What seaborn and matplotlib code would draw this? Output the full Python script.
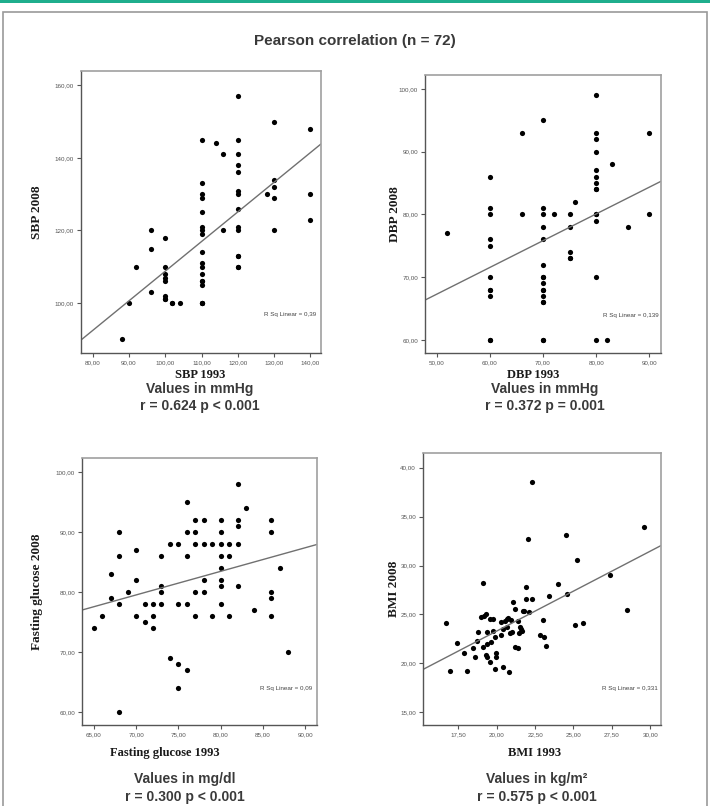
import numpy as np
import pandas as pd
import matplotlib.pyplot as plt
import seaborn as sns
from matplotlib.patches import Rectangle

sns.set_theme(style="white")
plt.rcParams['font.family'] = ['Liberation Sans', 'DejaVu Sans']

# --- data (n = 72, some points overlap) ---
# SBP (mmHg)
sbp_1993 = [88, 90, 92, 96, 96, 96,
            100, 100, 100, 100, 100, 100, 100, 100, 102, 102, 104,
            110, 110, 110, 110, 110, 110, 110, 110, 110, 110, 110, 110, 110, 110,
            110, 110, 110, 110,
            114, 116, 116,
            120, 120, 120, 120, 120, 120, 120, 120, 120, 120, 120, 120, 120, 120,
            128, 130, 130, 130, 130, 130, 140, 140, 140]
sbp_2008 = [90, 100, 110, 120, 115, 103,
            118, 110, 108, 107, 106, 102, 101, 101, 100, 100, 100,
            145, 133, 130, 129, 125, 121, 120, 119, 114, 111, 110, 108, 106, 106,
            105, 100, 100, 100,
            144, 141, 120,
            157, 145, 141, 138, 136, 131, 130, 126, 121, 120, 113, 113, 110, 110,
            130, 150, 134, 132, 129, 120, 148, 130, 123]

# DBP (mmHg)
dbp_1993 = [52,
            60, 60, 60, 60, 60, 60, 60, 60, 60, 60, 60,
            66, 66,
            70, 70, 70, 70, 70, 70, 70, 70, 70, 70, 70, 70, 70, 70, 70, 70,
            72, 75, 75, 75, 75, 75, 76,
            80, 80, 80, 80, 80, 80, 80, 80, 80, 80, 80, 80, 80, 80,
            82, 83, 86, 90, 90]
dbp_2008 = [77,
            86, 81, 80, 76, 75, 70, 68, 68, 67, 60, 60,
            93, 80,
            95, 81, 80, 78, 76, 72, 70, 70, 69, 68, 68, 67, 66, 66, 60, 60,
            80, 80, 78, 74, 73, 73, 82,
            99, 93, 92, 90, 87, 86, 85, 84, 84, 80, 80, 79, 70, 60,
            60, 88, 78, 93, 80]

# Fasting glucose (mg/dl)
glu_1993 = [65, 66, 67, 67, 68, 68, 68, 68, 69, 70, 70, 70, 71, 71, 72, 72, 72,
            73, 73, 73, 73, 74, 74, 75, 75, 75, 75, 76, 76, 76, 76, 76,
            77, 77, 77, 77, 77, 78, 78, 78, 78, 79, 79,
            80, 80, 80, 80, 80, 80, 80, 80, 81, 81, 81,
            82, 82, 82, 82, 82, 83, 84, 86, 86, 86, 86, 86, 87, 88]
glu_2008 = [74, 76, 83, 79, 90, 86, 78, 60, 80, 87, 82, 76, 75, 78, 78, 76, 74,
            86, 81, 80, 78, 88, 69, 88, 78, 68, 64, 95, 90, 86, 78, 67,
            92, 90, 88, 80, 76, 92, 88, 82, 80, 88, 76,
            92, 90, 88, 86, 84, 82, 81, 78, 88, 86, 76,
            98, 92, 91, 88, 81, 94, 77, 92, 90, 80, 79, 76, 84, 70]

# BMI (kg/m2)
bmi_1993 = [16.69, 16.98, 17.39, 17.89, 18.09, 18.48, 18.59, 18.70, 18.78, 19.00,
            19.09, 19.13, 19.17, 19.28, 19.28, 19.37, 19.40, 19.40, 19.57, 19.59,
            19.66, 19.76, 19.79, 19.87, 19.87, 19.96, 19.98, 20.26, 20.31, 20.38,
            20.40, 20.57, 20.66, 20.68, 20.74, 20.81, 20.87, 20.96, 21.00, 21.07,
            21.18, 21.20, 21.38, 21.40, 21.42, 21.49, 21.55, 21.64, 21.70, 21.77,
            21.88, 21.88, 22.01, 22.10, 22.29, 22.29, 22.81, 22.99, 23.10, 23.21,
            23.40, 24.01, 24.51, 24.60, 25.10, 25.21, 25.60, 27.39, 28.50, 29.61]
bmi_2008 = [24.1, 19.2, 22.1, 21.05, 19.2, 21.6, 20.6, 22.3, 23.2, 24.7,
            28.2, 21.7, 24.8, 20.9, 25.0, 20.6, 23.2, 22.0, 20.1, 24.5,
            22.2, 24.5, 23.3, 22.7, 19.4, 21.1, 20.6, 22.9, 24.2, 19.6,
            23.5, 24.3, 24.5, 23.7, 24.6, 19.1, 23.1, 24.4, 23.2, 26.3,
            25.6, 21.7, 21.6, 24.3, 23.1, 23.7, 23.5, 23.3, 25.4, 25.4,
            27.8, 26.6, 32.7, 25.2, 38.5, 26.6, 22.9, 24.4, 22.7, 21.8,
            26.9, 28.1, 33.1, 27.1, 23.9, 30.6, 24.1, 29.0, 25.5, 33.9]

x_labels = ['SBP 1993', 'DBP 1993', 'Fasting glucose 1993', 'BMI 1993']
y_labels = ['SBP 2008', 'DBP 2008', 'Fasting glucose 2008', 'BMI 2008']
units = ['Values in mmHg', 'Values in mmHg', 'Values in mg/dl', 'Values in kg/m²']
stats = ['r = 0.624 p < 0.001', 'r = 0.372 p = 0.001',
         'r = 0.300 p < 0.001', 'r = 0.575 p < 0.001']
rsq_text = ['R Sq Linear = 0,39', 'R Sq Linear = 0,139',
            'R Sq Linear = 0,09', 'R Sq Linear = 0,331']

x_ticks = [[80, 90, 100, 110, 120, 130, 140],
           [50, 60, 70, 80, 90],
           [65, 70, 75, 80, 85, 90],
           [17.5, 20, 22.5, 25, 27.5, 30]]
y_ticks = [[100, 120, 140, 160],
           [60, 70, 80, 90, 100],
           [60, 70, 80, 90, 100],
           [15, 20, 25, 30, 35, 40]]

W, H = 710, 806
fig = plt.figure(figsize=(W / 100, H / 100), dpi=100)
fig.patch.set_facecolor('white')


def fx(x):
    return x / W


def fy(y):
    return 1 - y / H


# panel layout in pixels: left, top, right, bottom
boxes = [(81, 71, 321, 353), (425, 75, 661, 353),
         (82, 458, 317, 725), (423, 453, 661, 725)]
xlims = [(76.8, 142.9), (47.8, 92.2), (63.6, 91.4), (15.2, 30.7)]
ylims = [(86.2, 164.0), (57.9, 102.2), (57.8, 102.3), (13.7, 41.5)]
ylab_x = [37, 395, 37, 394]
xlab_pos = [(200, 375), (533, 375), (165, 753), (535, 753)]
text_cx = [200, 545, 185, 537]
text_y = [(389, 406), (389, 406), (779, 797), (779, 797)]

frames = [
    pd.DataFrame({'x': sbp_1993, 'y': sbp_2008}),
    pd.DataFrame({'x': dbp_1993, 'y': dbp_2008}),
    pd.DataFrame({'x': glu_1993, 'y': glu_2008}),
    pd.DataFrame({'x': bmi_1993, 'y': bmi_2008}),
]

serif = ['Liberation Serif', 'DejaVu Serif']
narrow = ['Liberation Sans Narrow', 'Liberation Sans', 'DejaVu Sans']

for i, df in enumerate(frames):
    l, t, r, b = boxes[i]
    ax = fig.add_axes([fx(l), fy(b), (r - l) / W, (b - t) / H])
    ax.set_xlim(*xlims[i])
    ax.set_ylim(*ylims[i])
    sns.regplot(data=df, x='x', y='y', ax=ax, ci=None, truncate=False,
                scatter_kws=dict(s=14, color='black', linewidths=0, alpha=1),
                line_kws=dict(color='#707070', lw=1))
    ax.set_xlim(*xlims[i])
    ax.set_ylim(*ylims[i])
    ax.set_xlabel('')
    ax.set_ylabel('')
    ax.set_xticks(x_ticks[i])
    ax.set_xticklabels([f'{v:.2f}'.replace('.', ',') for v in x_ticks[i]],
                       family=narrow)
    ax.set_yticks(y_ticks[i])
    ax.set_yticklabels([f'{v:.2f}'.replace('.', ',') for v in y_ticks[i]],
                       family=narrow)
    ax.tick_params(axis='both', direction='out', length=3, width=0.8,
                   labelsize=4.5, colors='#555555', left=True, bottom=True, pad=2)
    for s in ['left', 'bottom']:
        ax.spines[s].set_color('#555555')
        ax.spines[s].set_linewidth(1.0)
    for s in ['top', 'right']:
        ax.spines[s].set_color('#a0a0a0')
        ax.spines[s].set_linewidth(1.2)
    ax.text(0.87, 0.135, rsq_text[i], transform=ax.transAxes, fontsize=4.5,
            family=narrow, color='#444444', ha='center', va='center')

    fig.text(fx(ylab_x[i]), fy((t + b) / 2), y_labels[i], rotation=90,
             ha='center', va='center', fontsize=9.5, fontweight='bold',
             family=serif, color='#1a1a1a')
    fig.text(fx(xlab_pos[i][0]), fy(xlab_pos[i][1]), x_labels[i],
             ha='center', va='center', fontsize=9, fontweight='bold',
             family=serif, color='#1a1a1a')
    fig.text(fx(text_cx[i]), fy(text_y[i][0]), units[i], ha='center', va='center',
             fontsize=10, fontweight='bold', color='#3a3a3a')
    fig.text(fx(text_cx[i]), fy(text_y[i][1]), stats[i], ha='center', va='center',
             fontsize=10, fontweight='bold', color='#3a3a3a')

fig.text(fx(355), fy(41), 'Pearson correlation (n = 72)', ha='center', va='center',
         fontsize=11, fontweight='bold', color='#3a3a3a')

# outer frame and the teal rule at the top
fig.patches.append(Rectangle((fx(3), -0.01), 704 / W, fy(12) + 0.01, fill=False,
                             edgecolor='#9a9a9a', lw=1.2, transform=fig.transFigure))
fig.patches.append(Rectangle((0, fy(3)), 1, 3 / H, facecolor='#1fae8d',
                             edgecolor='none', transform=fig.transFigure))

fig.savefig('out.png', dpi=100)
